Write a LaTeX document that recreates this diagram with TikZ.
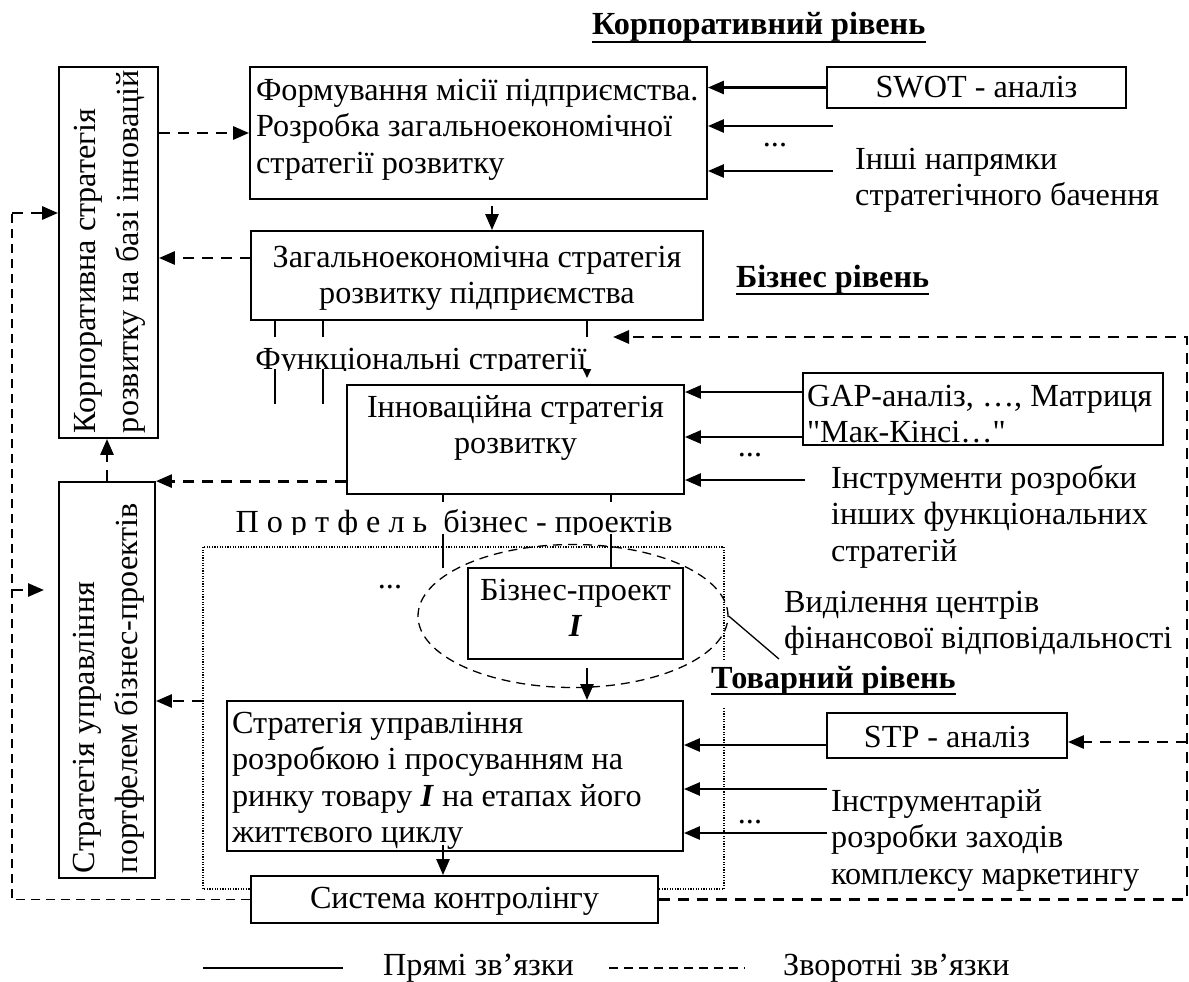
\documentclass[tikz,border=0pt]{standalone}
\usepackage{fontspec}
\setmainfont{Liberation Serif}
\newfontfamily\plainq{Liberation Serif}[Ligatures=TeXOff]
\usetikzlibrary{arrows.meta,shapes.geometric}

\newcommand\szmain{\fontsize{32.2pt}{36.5pt}\selectfont}
\newcommand\szrot{\fontsize{32.2pt}{43pt}\selectfont}

\tikzset{
  box/.style={draw, line width=1.8pt, rectangle, inner ysep=0pt, inner xsep=5pt, text height=25pt},
  rotbox/.style={box, rotate=90, font=\szrot, align=flush left},
  lbl/.style={inner sep=0pt, anchor=base west, align=flush left, text width=#1},
  ttl/.style={inner sep=0pt, anchor=base west, font=\szmain\bfseries},
  dots/.style={inner sep=0pt, anchor=base},
  arr/.style={line width=2.6pt, -{Triangle[length=16pt,width=13pt]}},
  smallarr/.style={line width=1.8pt, -{Triangle[length=9pt,width=8pt]}},
  stem/.style={line width=1.8pt},
  farr/.style={line width=2.8pt, dash pattern=on 11pt off 8pt, -{Triangle[length=16pt,width=13pt]}},
  thindash/.style={line width=1.3pt, dash pattern=on 9pt off 6pt},
  dotframe/.style={line width=1.2pt, dash pattern=on 1.2pt off 1.4pt},
}

\begin{document}
\begin{tikzpicture}[x=1pt, y=-1pt, font=\szmain]
\useasboundingbox[fill=white] (0,0) rectangle (1189,982);

% frame around the business-project area
\draw[dotframe] (203,547) rectangle (724,889);
\fill[white] (705,660) rectangle (962,708);

% level titles
\node[ttl] (corpT) at (592,35) {Корпоративний рівень};
\draw[line width=2.3pt] ([yshift=-7pt]corpT.base west) -- ([yshift=-7pt]corpT.base east);
\node[ttl] (busT) at (736,287) {Бізнес рівень};
\draw[line width=2.3pt] ([yshift=-7pt]busT.base west) -- ([yshift=-7pt]busT.base east);
\node[ttl] (prodT) at (711,688) {Товарний рівень};
\draw[line width=2.3pt] ([yshift=-6pt]prodT.base west) -- ([yshift=-6pt]prodT.base east);

% boxes
\node[box, align=flush left, inner xsep=6pt, text width=445pt, minimum width=457pt, minimum height=132pt, text depth=91pt]
  (mission) at (478.5,133) {\mbox{Формування місії підприємства.}\\\mbox{Розробка загальноекономічної}\\\mbox{стратегії розвитку}};
\node[box, minimum width=299pt, minimum height=41pt, text depth=4pt]
  (swot) at (976.5,87.5) {SWOT - аналіз};
\node[box, align=flush center, text width=442pt, minimum width=452pt, minimum height=89pt, text depth=42pt]
  (genStrat) at (477,275.5) {\mbox{Загальноекономічна стратегія}\\\mbox{розвитку підприємства}};
\node[box, align=flush center, text width=327pt, minimum width=337pt, minimum height=109pt, text depth=70pt]
  (innov) at (515.5,439.5) {\mbox{Інноваційна стратегія}\\розвитку};
\node[box, align=flush left, inner xsep=4pt, text width=352pt, minimum width=360pt, minimum height=72pt, text depth=31pt]
  (gap) at (983,409) {\mbox{GAP-аналіз, …, Матриця}\\\mbox{\plainq"Мак-Кінсі…"}};
\node[box, align=flush center, text width=205pt, minimum width=215pt, minimum height=91pt, text depth=52pt]
  (proj) at (575.5,613.5) {\mbox{Бізнес-проект}\\\textbf{\textit{I}}};
\node[box, align=flush left, text width=446pt, minimum width=456pt, minimum height=150pt, text depth=111pt]
  (prodStrat) at (455,776) {\mbox{Стратегія управління}\\\mbox{розробкою і просуванням на}\\\mbox{ринку товару \textbf{\textit{I}} на етапах його}\\\mbox{життєвого циклу}};
\node[box, minimum width=240pt, minimum height=45pt, text depth=2pt]
  (stp) at (947,735.5) {STP - аналіз};
\node[box, fill=white, minimum width=407pt, minimum height=47pt, text depth=8pt]
  (control) at (454.5,899.5) {Система контролінгу};
% vertical boxes: node east = top, node south = right side, node north = left side, node west = bottom
\node[rotbox, text width=361pt, minimum width=371pt, minimum height=99pt, text depth=52pt]
  (corpStrat) at (108.5,252.5) {\mbox{Корпоративна стратегія}\\\mbox{розвитку на базі інновацій}};
\node[rotbox, text width=386pt, minimum width=396pt, minimum height=96pt, text depth=51pt]
  (portf) at (107,680) {\mbox{Стратегія управління}\\\mbox{портфелем бізнес-проектів}};

% centres of financial responsibility
\node[ellipse, draw, thindash, minimum width=310pt, minimum height=143pt, inner sep=0pt] (ell) at (573,616) {};

% free-standing labels
\node[lbl=330pt] (otherDirs) at (855,169) {\mbox{Інші напрямки}\\\mbox{стратегічного бачення}};
\node[lbl=356pt] (instr) at (831,488) {\mbox{Інструменти розробки}\\\mbox{інших функціональних}\\стратегій};
\node[lbl=403pt] (centres) at (784,612) {\mbox{Виділення центрів}\\\mbox{фінансової відповідальності}};
\node[lbl=356pt] (toolkit) at (831,811) {Інструментарій\\\mbox{розробки заходів}\\\mbox{комплексу маркетингу}};
\node[dots] (d1) at (775,146) {...};
\node[dots] (d2) at (750,456) {...};
\node[dots] (d3) at (390,588) {...};
\node[dots] (d4) at (750,823) {...};

% corporate level inputs
\coordinate (in2) at (833,126);
\coordinate (in3) at (833,171);
\draw[arr] (swot.west) -- (swot.west -| mission.east);
\draw[arr] (in2) -- (in2 -| mission.east);
\draw[arr] (in3) -- (in3 -| mission.east);
\coordinate (m2g) at (492,206);
\draw[arr] (m2g) -- (m2g |- genStrat.north);

% feedback to the corporate strategy
\draw[farr] (corpStrat.south |- mission.west) -- (mission.west);
\coordinate (g2c) at (251,258);
\draw[farr] (g2c) -- (g2c -| corpStrat.south);

% functional strategies
\coordinate (f1) at (275,404);
\coordinate (f2) at (323,404);
\coordinate (f3) at (587,378);
\draw[stem] (f1 |- genStrat.south) -- (f1);
\draw[stem] (f2 |- genStrat.south) -- (f2);
\draw[smallarr] (f3 |- genStrat.south) -- (f3);
\fill[white] (250,337) rectangle (594,369);
\begin{scope}
  \clip (250,337) rectangle (594,370);
  \node[inner sep=0pt, anchor=base] (funcT) at (421,369) {Функціональні стратегії};
\end{scope}

% portfolio of business projects
\coordinate (p1) at (443,568);
\coordinate (p2) at (611,568);
\draw[stem] (p1 |- innov.south) -- (p1);
\draw[stem] (p2 |- innov.south) -- (p2 |- proj.north);
\fill[white] (234,502) rectangle (677,534);
\begin{scope}
  \clip (234,502) rectangle (677,534);
  \node[inner sep=0pt, anchor=base] (portT) at (454,532) {П о р т ф е л ь\ \ бізнес - проектів};
\end{scope}

% business level inputs
\coordinate (gi1) at (803,392);
\coordinate (gi2) at (803,437);
\coordinate (gi3) at (805,480);
\draw[arr] (gi1) -- (gi1 -| innov.east);
\draw[arr] (gi2) -- (gi2 -| innov.east);
\draw[arr] (gi3) -- (gi3 -| innov.east);
\draw[farr] (innov.west |- portf.south east) -- (portf.south east);
\draw[farr] (portf.east) -- (portf.east |- corpStrat.west);

% product level
\coordinate (p2h) at (587,668);
\draw[arr] (p2h) -- (p2h |- prodStrat.north);
\coordinate (fr) at (203,701);
\draw[farr] (fr) -- (fr -| portf.south);
\coordinate (lead) at (779,659);
\draw[line width=1.3pt] (ell.east) -- (lead);
\coordinate (si1) at (827,745);
\coordinate (si2) at (827,789);
\coordinate (si3) at (827,833);
\draw[arr] (si1) -- (si1 -| prodStrat.east);
\draw[arr] (si2) -- (si2 -| prodStrat.east);
\draw[arr] (si3) -- (si3 -| prodStrat.east);
\coordinate (h2k) at (443,845);
\draw[arr] (h2k) -- (h2k |- control.north);

% controlling feedback loops
\coordinate (lt) at (12,213);
\coordinate (lm) at (12,590);
\coordinate (lmt) at (44,590);
\draw[thindash] (control.west) -- (control.west -| lt) -- (lt);
\draw[farr] (lt) -- (lt -| corpStrat.north);
\draw[farr] (lm) -- (lmt);
\coordinate (rt) at (1187,337);
\coordinate (ft) at (613,337);
\coordinate (rs) at (1187,742);
\draw[farr] (control.east) -- (control.east -| rt) -- (rt) -- (ft);
\draw[farr] (rs) -- (rs -| stp.east);

% legend
\coordinate (lg1) at (203,968);
\coordinate (lg2) at (343,968);
\coordinate (lg3) at (609,968);
\coordinate (lg4) at (745,968);
\draw[line width=2pt] (lg1) -- (lg2);
\node[inner sep=0pt, anchor=base west] (legS) at (383,975) {Прямі зв’язки};
\draw[thindash] (lg3) -- (lg4);
\node[inner sep=0pt, anchor=base west] (legD) at (783,975) {Зворотні зв’язки};
\end{tikzpicture}
\end{document}
